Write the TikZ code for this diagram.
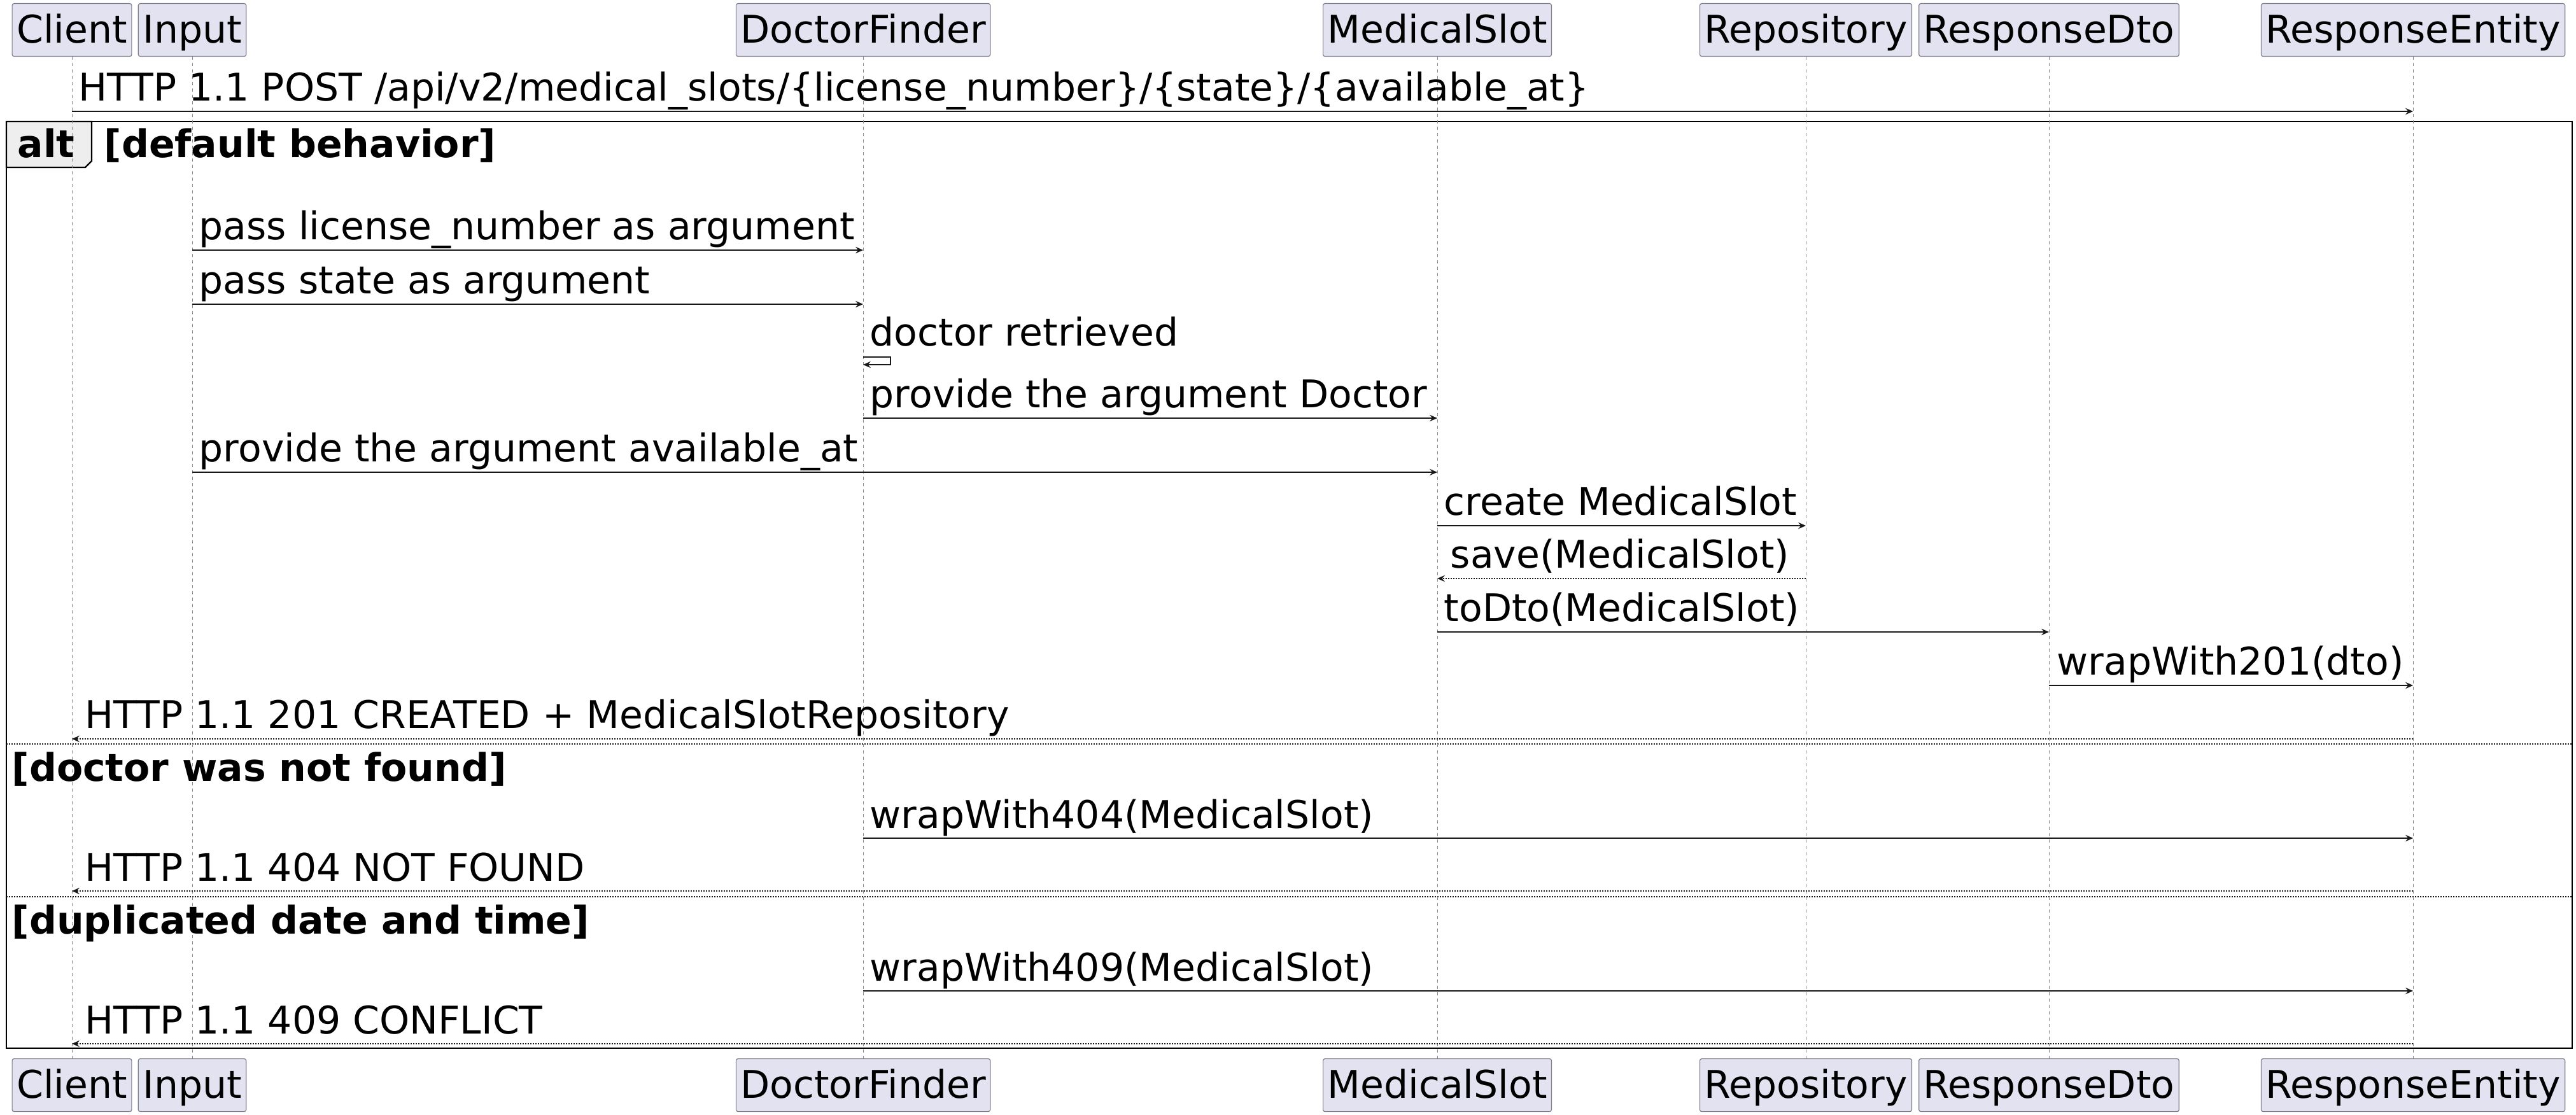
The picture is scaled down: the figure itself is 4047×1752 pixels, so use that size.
\documentclass[tikz,border=0pt]{standalone}
\usepackage{fontspec}
\setmainfont{DejaVu Sans}
\usetikzlibrary{arrows.meta}
\definecolor{partfill}{HTML}{E2E2F0}
\definecolor{partline}{HTML}{7E7E8C}
\definecolor{ink}{HTML}{181818}
\definecolor{tabfill}{HTML}{EEEEEE}
\definecolor{lifegray}{HTML}{8A8A8A}

\begin{document}
\begin{tikzpicture}[x=0.25pt, y=-0.25pt,
  txt/.style={font=\fontsize{15pt}{18pt}\selectfont},
  part/.style={txt, draw=partline, line width=0.3pt, fill=partfill,
    rounded corners=0.75pt, inner xsep=1.75pt, inner ysep=0pt,
    text height=15.5pt, text depth=5.25pt, anchor=north},
  lifeline/.style={draw=lifegray, line width=0.25pt, dash pattern=on 1.25pt off 1.25pt},
  msg/.style={draw=ink, line width=0.35pt, -{Stealth[length=3pt,width=2.6pt,inset=1.1pt]}},
  ret/.style={msg, dash pattern=on 0.5pt off 0.5pt},
  lbl/.style={txt, anchor=base west, inner sep=0pt},
  guard/.style={lbl, font=\fontsize{15pt}{18pt}\selectfont\bfseries},
  framebox/.style={draw=black, line width=0.55pt},
  sep/.style={draw=ink, line width=0.3pt, dash pattern=on 0.5pt off 0.5pt},
]
\useasboundingbox (0,0) rectangle (4047,1752);

% alt fragment with its tab
\draw[framebox] (10,191) rectangle (4041,1647);
\draw[framebox, fill=tabfill] (10,191) -- (144,191) -- (144,253) -- (134,263) -- (10,263) -- cycle;
\draw[sep] (10,1169) -- (4041,1169);
\draw[sep] (10,1409) -- (4041,1409);

% participants, top row
\node[part] (ct) at (113,5)  {Client};
\node[part] (it) at (302,5)  {Input};
\node[part] (dt) at (1356,5) {DoctorFinder};
\node[part] (mt) at (2258,5) {MedicalSlot};
\node[part] (rt) at (2837,5) {Repository};
\node[part] (ot) at (3219,5) {ResponseDto};
\node[part] (et) at (3791,5) {ResponseEntity};
% participants, bottom row
\node[part] (cb) at (113,1663)  {Client};
\node[part] (ib) at (302,1663)  {Input};
\node[part] (db) at (1356,1663) {DoctorFinder};
\node[part] (mb) at (2258,1663) {MedicalSlot};
\node[part] (rb) at (2837,1663) {Repository};
\node[part] (ob) at (3219,1663) {ResponseDto};
\node[part] (eb) at (3791,1663) {ResponseEntity};

% lifelines
\foreach \a/\b in {ct/cb, it/ib, dt/db, mt/mb, rt/rb, ot/ob, et/eb}
  \draw[lifeline] (\a.south) -- (\b.north);

% guards
\node[guard] (g0) at (27,248) {alt};
\node[guard] (g1) at (163,248) {[default behavior]};
\node[guard] (g2) at (18,1227) {[doctor was not found]};
\node[guard] (g3) at (18,1467) {[duplicated date and time]};

% messages
\draw[msg] (ct |- 0,175) -- (et |- 0,175);
\node[lbl] (t1) at (123,159) {HTTP 1.1 POST /api/v2/medical\_slots/\{license\_number\}/\{state\}/\{available\_at\}};

\draw[msg] (it |- 0,393) -- (dt |- 0,393);
\node[lbl] (t2) at (312,377) {pass license\_number as argument};

\draw[msg] (it |- 0,478) -- (dt |- 0,478);
\node[lbl] (t3) at (312,462) {pass state as argument};

\draw[msg] (dt |- 0,561) -- ++(43,0) -- ++(0,12) -- (dt |- 0,573);
\node[lbl] (t4) at (1366,544) {doctor retrieved};

\draw[msg] (dt |- 0,657) -- (mt |- 0,657);
\node[lbl] (t5) at (1366,641) {provide the argument Doctor};

\draw[msg] (it |- 0,742) -- (mt |- 0,742);
\node[lbl] (t6) at (312,726) {provide the argument available\_at};

\draw[msg] (mt |- 0,826) -- (rt |- 0,826);
\node[lbl] (t7) at (2268,810) {create MedicalSlot};

\draw[ret] (rt |- 0,909) -- (mt |- 0,909);
\node[lbl] (t8) at (2278,893) {save(MedicalSlot)};

\draw[msg] (mt |- 0,993) -- (ot |- 0,993);
\node[lbl] (t9) at (2268,977) {toDto(MedicalSlot)};

\draw[msg] (ot |- 0,1077) -- (et |- 0,1077);
\node[lbl] (t10) at (3231,1061) {wrapWith201(dto)};

\draw[ret] (et |- 0,1161) -- (ct |- 0,1161);
\node[lbl] (t11) at (133,1145) {HTTP 1.1 201 CREATED + MedicalSlotRepository};

\draw[msg] (dt |- 0,1317) -- (et |- 0,1317);
\node[lbl] (t12) at (1366,1301) {wrapWith404(MedicalSlot)};

\draw[ret] (et |- 0,1400) -- (ct |- 0,1400);
\node[lbl] (t13) at (133,1384) {HTTP 1.1 404 NOT FOUND};

\draw[msg] (dt |- 0,1557) -- (et |- 0,1557);
\node[lbl] (t14) at (1366,1541) {wrapWith409(MedicalSlot)};

\draw[ret] (et |- 0,1640) -- (ct |- 0,1640);
\node[lbl] (t15) at (133,1624) {HTTP 1.1 409 CONFLICT};
\end{tikzpicture}
\end{document}
